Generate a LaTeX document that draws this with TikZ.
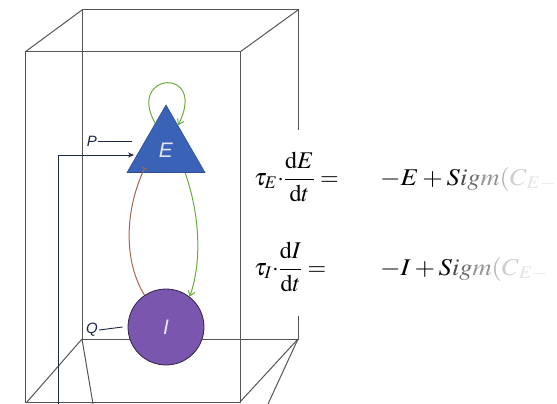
\documentclass[tikz,border=0pt]{standalone}
\usepackage{amsmath}
\usepackage{mathptmx}
\usepackage{fontspec}
\newfontfamily\lsans{Liberation Sans}
\usetikzlibrary{shapes.geometric, arrows.meta}
\definecolor{kante}{HTML}{555555}
\definecolor{blau}{HTML}{3A62B6}
\definecolor{lila}{HTML}{7A56AE}
\definecolor{gruen}{HTML}{6BAA3E}
\definecolor{braun}{HTML}{A5664E}
\definecolor{tinte}{HTML}{1E2844}
\definecolor{fadeA}{HTML}{4A4A4A}
\definecolor{fadeB}{HTML}{6E6E6E}
\definecolor{fadeC}{HTML}{949494}
\definecolor{fadeD}{HTML}{B4B4B4}
\definecolor{fadeE}{HTML}{CDCDCD}
\definecolor{fadeF}{HTML}{E2E2E2}

\begin{document}
\begin{tikzpicture}[
  x=1pt, y=-1pt,
  box/.style={draw=kante, line width=1pt},
  exc/.style={draw=blau!80!black, fill=blau, regular polygon, regular polygon sides=3,
              minimum size=90pt, inner sep=0pt, line width=0.6pt},
  inh/.style={draw=lila!40!black, fill=lila, circle, minimum size=76pt,
              inner sep=0pt, line width=0.8pt},
  popname/.style={text=white!90!blue, font=\lsans\itshape\fontsize{21}{21}\selectfont},
  eingang/.style={text=tinte, font=\lsans\itshape\fontsize{15}{15}\selectfont, inner sep=1pt},
  gleich/.style={anchor=base west, inner sep=0pt, font=\fontsize{24}{28}\selectfont},
  wire/.style={draw=tinte, line width=0.9pt},
  gar/.style={draw=gruen, line width=1pt, -{Straight Barb[length=5pt,width=7pt]}},
  bar/.style={draw=braun, line width=1pt, -{Bar[width=5pt]}}
]
\useasboundingbox (0,0) rectangle (557,404);

%--------------------------------------------------------------
% Box in perspective
%--------------------------------------------------------------
\draw[box] (25,402) -- (25,52) -- (240,52) -- (240,402) -- cycle;
\draw[box] (82,339) -- (82,10) -- (298,10) -- (298,130);
\draw[box] (298,316) -- (298,339) -- (82,339);
\draw[box] (25,52) -- (82,10);
\draw[box] (240,52) -- (298,10);
\draw[box] (82,339) -- (27,402);
\draw[box] (82,339) -- (93,404);
\draw[box] (298,339) -- (240,402);
\draw[box] (298,339) -- (268,404);

%--------------------------------------------------------------
% Populations E and I
%--------------------------------------------------------------
\node[exc] (E) at (166,150) {};
\node[popname] at (E.center) {E};
\node[inh] (I) at (166,327) {};
\node[popname] at (I.center) {I};

%--------------------------------------------------------------
% Inputs P and Q, feedback line into E
%--------------------------------------------------------------
\node[eingang] (P) at (92,141) {P};
\draw[wire] (P.east) -- ++(34,0);
\node[eingang] (Q) at (92,330) {Q};
\draw[wire] (Q.east) -- ([xshift=-5pt]I.west);

\coordinate (pfuss) at (58,404);
\coordinate (pziel) at (134,155);
\draw[wire, -{Stealth[length=6pt,width=5pt]}] (pfuss) |- (pziel);

%--------------------------------------------------------------
% Couplings
%--------------------------------------------------------------
\draw[gar] (E.112) .. controls (126,72) and (208,66) .. (E.64);
\draw[gar] (E.-50) .. controls (200,215) and (202,262) .. (I.52);
\draw[bar] (I.124) .. controls (124,262) and (124,212) .. ([yshift=5pt]E.-133);

%--------------------------------------------------------------
% Rate equations
%--------------------------------------------------------------
\node[gleich] (lhsE) at (254,185) {$\tau_{E}{\cdot}\dfrac{\mathrm{d}E}{\mathrm{d}t}=$};
\node[gleich] (rhsE) at (380,185) {\scalebox{1.1}[1]{$-E+S\textcolor{fadeA}{i}\textcolor{fadeB}{g}\textcolor{fadeC}{m}\textcolor{fadeD}{(}\textcolor{fadeE}{C}_{\textcolor{fadeF}{E-}}$}};
\node[gleich] (lhsI) at (254,275) {$\tau_{I}{\cdot}\dfrac{\mathrm{d}I}{\mathrm{d}t}=$};
\node[gleich] (rhsI) at (380,275) {\scalebox{1.1}[1]{$-I+S\textcolor{fadeA}{i}\textcolor{fadeB}{g}\textcolor{fadeC}{m}\textcolor{fadeD}{(}\textcolor{fadeE}{C}_{\textcolor{fadeF}{E-}}$}};

\end{tikzpicture}
\end{document}
